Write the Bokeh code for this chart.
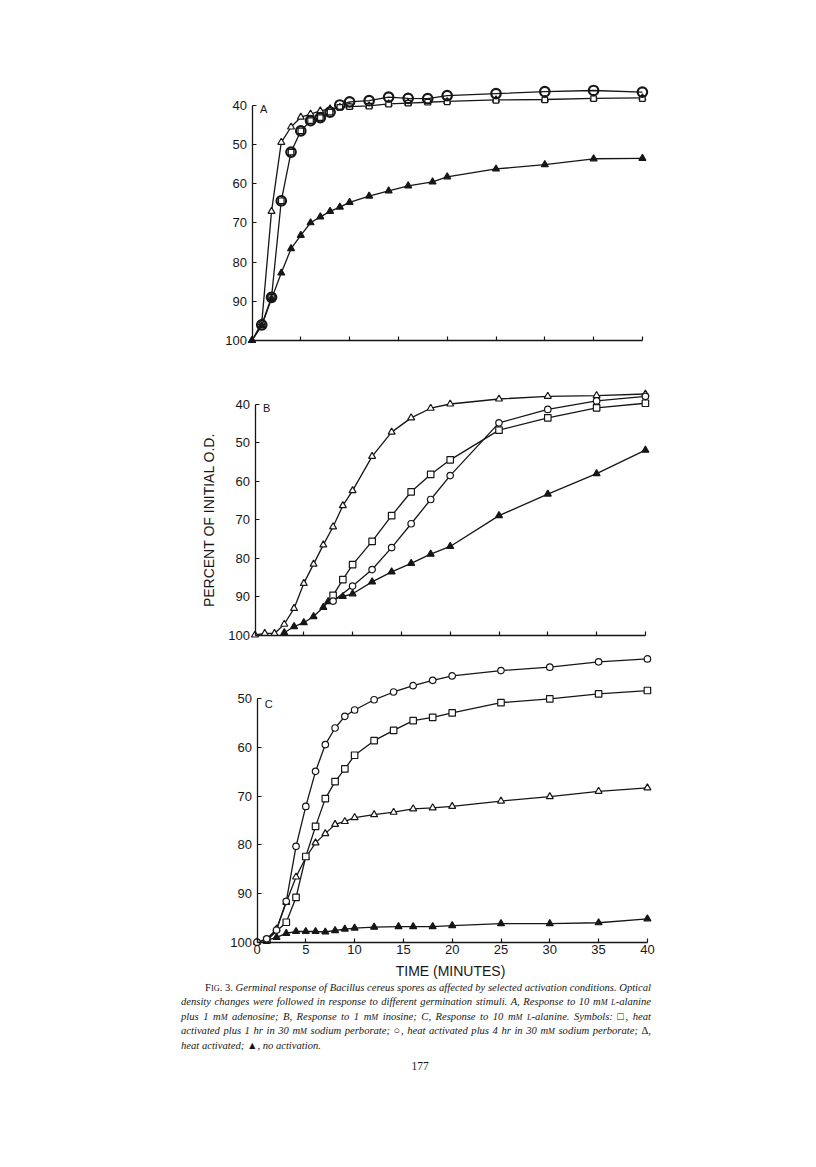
from bokeh.plotting import figure
from bokeh.models import Range1d, FixedTicker, Label, Div
from bokeh.layouts import column
from bokeh.embed import file_html
from bokeh.resources import INLINE

# ---------------- data (minutes, percent of initial O.D.) ----------------
# Panel A
a_tri_t = [0, 1, 2, 3, 4, 5, 6, 7, 8, 9, 10, 12, 14, 16, 18, 20, 25, 30, 35, 40]
a_tri_v = [100, 95.5, 67.1, 49.5, 45.6, 43.1, 42.3, 41.5, 41.0, 40.6, 40.4, 40.2, 39.7, 39.5, 39.3, 39.1, 38.7, 38.6, 38.3, 38.2]
a_cir_t = [1, 2, 3, 4, 5, 6, 7, 8, 9, 10, 12, 14, 16, 18, 20, 25, 30, 35, 40]
a_cir_v = [96.0, 89.0, 64.4, 52.0, 46.6, 44.0, 43.2, 41.8, 40.0, 39.2, 38.9, 38.0, 38.3, 38.4, 37.6, 37.1, 36.6, 36.3, 36.7]
a_sq_t = [2, 3, 4, 5, 6, 7, 8, 9, 10, 12, 14, 16, 18, 20, 25, 30, 35, 40]
a_sq_v = [89.0, 64.4, 52.0, 46.6, 44.0, 43.2, 41.8, 40.6, 40.4, 40.3, 39.8, 39.5, 39.3, 39.2, 38.8, 38.7, 38.4, 38.4]
a_fil_t = [0, 1, 2, 3, 4, 5, 6, 7, 8, 9, 10, 12, 14, 16, 18.5, 20, 25, 30, 35, 40]
a_fil_v = [100, 96.2, 89.4, 82.8, 76.6, 73.2, 70.0, 68.5, 67.1, 66.0, 64.8, 63.2, 61.9, 60.6, 59.6, 58.3, 56.3, 55.2, 53.7, 53.6]

# Panel B
b_tri_t = [0, 1, 2, 3, 4, 5, 6, 7, 8, 9, 10, 12, 14, 16, 18, 20, 25, 30, 35, 40]
b_tri_v = [100, 99.6, 99.6, 97.2, 93.1, 86.6, 81.6, 76.6, 71.9, 66.4, 62.5, 53.6, 47.3, 43.6, 41.1, 40.0, 38.7, 38.0, 37.8, 37.4]
b_sq_t = [8, 9, 10, 12, 14, 16, 18, 20, 25, 30, 35, 40]
b_sq_v = [89.7, 85.6, 81.7, 75.7, 69.0, 62.8, 58.3, 54.5, 46.8, 43.6, 41.0, 39.8]
b_cir_t = [8, 10, 12, 14, 16, 18, 20, 25, 30, 35, 40]
b_cir_v = [91.2, 87.3, 83.0, 77.3, 71.1, 64.8, 58.6, 44.9, 41.4, 39.2, 38.0]
b_fil_t = [3, 4, 5, 6, 7, 7.5, 9, 10, 12, 14, 16, 18, 20, 25, 30, 35, 40]
b_fil_v = [99.4, 97.8, 96.8, 95.2, 92.8, 91.3, 90.0, 89.3, 86.2, 83.6, 81.4, 79.0, 77.0, 69.0, 63.4, 58.1, 52.0]

# Panel C
c_cir_t = [0, 1, 2, 3, 4, 5, 6, 7, 8, 9, 10, 12, 14, 16, 18, 20, 25, 30, 35, 40]
c_cir_v = [100, 99.3, 97.5, 91.6, 80.3, 72.1, 64.9, 59.4, 56.0, 53.6, 52.3, 50.2, 48.6, 47.3, 46.2, 45.3, 44.2, 43.5, 42.4, 41.8]
c_sq_t = [1, 3, 4, 5, 6, 7, 8, 9, 10, 12, 14, 16, 18, 20, 25, 30, 35, 40]
c_sq_v = [99.6, 95.9, 90.8, 82.4, 76.2, 70.5, 67.0, 64.4, 61.6, 58.6, 56.5, 54.5, 53.8, 52.9, 50.8, 50.0, 49.0, 48.3]
c_tri_t = [0, 1, 2, 3, 4, 5, 6, 7, 8, 9, 10, 12, 14, 16, 18, 20, 25, 30, 35, 40]
c_tri_v = [100, 99.5, 97.3, 91.8, 86.6, 82.6, 79.6, 77.7, 75.8, 75.2, 74.4, 73.8, 73.3, 72.6, 72.4, 72.1, 71.0, 70.1, 69.0, 68.3]
c_fil_t = [1, 2, 3, 4, 5, 6, 7, 8, 9, 10, 12, 14.5, 16, 18, 20, 25, 30, 35, 40]
c_fil_v = [99.6, 99.0, 98.2, 97.8, 97.8, 97.8, 97.9, 97.6, 97.3, 97.1, 96.9, 96.8, 96.8, 96.8, 96.6, 96.2, 96.2, 96.0, 95.2]

x_ticks_ab = [5, 10, 15, 20, 25, 30, 35, 40]
x_ticks_c = [0, 5, 10, 15, 20, 25, 30, 35, 40]
y_ticks_ab = [40, 50, 60, 70, 80, 90, 100]
y_ticks_c = [50, 60, 70, 80, 90, 100]

x_title = "TIME  (MINUTES)"
y_title = "PERCENT OF INITIAL O.D."

INK = "#161616"
TICK_FONT = "Liberation Sans"

# ---------------- layout geometry (screen pixels) ----------------
W = 800
FL, FR = 190, 660          # frame left / right on the screen
L = FL
FW = FR - FL
R = W - L - FW


def make_panel(page_top, H, T, B, t0_px, px_min, vref, vref_px, px_unit,
               ybounds, yticks, xticks, show_xlabels, letter, letter_v):
    ftop = page_top + T
    fbot = page_top + H - B
    x0 = (FL - t0_px) / px_min
    x1 = (FR - t0_px) / px_min
    ybot = vref + (fbot - vref_px) / px_unit
    ytop = vref + (ftop - vref_px) / px_unit
    p = figure(width=W, height=H, output_backend="svg", toolbar_location=None,
               x_range=Range1d(x0, x1), y_range=Range1d(ybot, ytop),
               min_border_left=L, min_border_right=R,
               min_border_top=T, min_border_bottom=B)
    p.outline_line_color = None
    p.grid.visible = False
    p.background_fill_color = "white"
    p.border_fill_color = "white"

    xa = p.xaxis[0]
    ya = p.yaxis[0]
    xa.fixed_location = 100
    ya.fixed_location = 0
    xa.bounds = (0, 40)
    ya.bounds = ybounds
    xa.ticker = FixedTicker(ticks=xticks)
    ya.ticker = FixedTicker(ticks=yticks)
    for ax in (xa, ya):
        ax.axis_line_color = INK
        ax.axis_line_width = 1.3
        ax.major_tick_line_color = INK
        ax.major_tick_line_width = 1.2
        ax.major_tick_in = 4
        ax.major_tick_out = 0
        ax.minor_tick_line_color = None
        ax.major_label_text_font = TICK_FONT
        ax.major_label_text_font_size = "13px"
        ax.major_label_text_color = INK
    ya.major_label_standoff = 5
    xa.major_label_standoff = 3
    if not show_xlabels:
        xa.major_label_text_color = None
    p.add_layout(Label(x=1.2, y=letter_v, text=letter, text_font=TICK_FONT,
                       text_font_size="11px", text_color=INK,
                       text_align="center", text_baseline="middle"))
    return p


def series(p, t, v, marker, size=6.5, fill="white", lw=1.2, line=True):
    if line:
        p.line(t, v, line_color=INK, line_width=1.3)
    return (marker, t, v, size, fill, lw)


def draw_markers(p, specs):
    for marker, t, v, size, fill, lw in specs:
        p.scatter(t, v, marker=marker, size=size, fill_color=fill,
                  line_color=INK, line_width=lw)


# Panel A
pA = make_panel(0, 372, 70, 12, 251.5, 9.76, 40, 104.5, 3.925,
                (40, 100), y_ticks_ab, x_ticks_ab, False, "A", 41.0)
sA = [series(pA, a_tri_t, a_tri_v, "triangle", 7),
      series(pA, a_sq_t, a_sq_v, "square", 5.5, line=False),
      series(pA, a_cir_t, a_cir_v, "circle", 9.5, fill=None, lw=2.2),
      series(pA, a_fil_t, a_fil_v, "triangle", 7, fill=INK)]
draw_markers(pA, sA)

# Panel B
pB = make_panel(372, 276, 8, 3, 254.5, 9.76, 40, 403.5, 3.85,
                (40, 100), y_ticks_ab, x_ticks_ab, False, "B", 41.0)
pB.yaxis[0].axis_label = y_title
pB.yaxis[0].axis_label_text_font = TICK_FONT
pB.yaxis[0].axis_label_text_font_size = "14px"
pB.yaxis[0].axis_label_text_font_style = "normal"
pB.yaxis[0].axis_label_text_color = INK
pB.yaxis[0].axis_label_standoff = 9
sB = [series(pB, b_fil_t, b_fil_v, "triangle", 7, fill=INK),
      series(pB, b_tri_t, b_tri_v, "triangle", 7),
      series(pB, b_sq_t, b_sq_v, "square", 6.5),
      series(pB, b_cir_t, b_cir_v, "circle", 6.5)]
draw_markers(pB, sB)

# Panel C
pC = make_panel(648, 332, 2, 0, 256.5, 9.76, 50, 698.3, 4.868,
                (50, 100), y_ticks_c, x_ticks_c, True, "C", 51.0)
pC.xaxis[0].axis_label = x_title
pC.xaxis[0].axis_label_text_font = TICK_FONT
pC.xaxis[0].axis_label_text_font_size = "14px"
pC.xaxis[0].axis_label_text_font_style = "normal"
pC.xaxis[0].axis_label_text_color = INK
pC.xaxis[0].axis_label_standoff = 5
sC = [series(pC, c_fil_t, c_fil_v, "triangle", 7, fill=INK),
      series(pC, c_tri_t, c_tri_v, "triangle", 7),
      series(pC, c_sq_t, c_sq_v, "square", 6.5),
      series(pC, c_cir_t, c_cir_v, "circle", 6.5)]
draw_markers(pC, sC)

# ---------------- caption ----------------
sm = '<span style="font-size:0.78em">{}</span>'
mM = 'm' + sm.format('M')
Lala = sm.format('L') + '-alanine'
lines = [
    '<span style="font-style:normal">F' + sm.format('IG') + '. 3.</span> Germinal response of Bacillus cereus spores as affected by selected activation conditions. Optical',
    'density changes were followed in response to different germination stimuli. A, Response to 10 ' + mM + ' ' + Lala,
    'plus 1 ' + mM + ' adenosine; B, Response to 1 ' + mM + ' inosine; C, Response to 10 ' + mM + ' ' + Lala + '. Symbols: <span style="font-style:normal">&#9633;</span>, heat',
    'activated plus 1 hr in 30 ' + mM + ' sodium perborate; <span style="font-style:normal">&#9675;</span>, heat activated plus 4 hr in 30 ' + mM + ' sodium perborate; <span style="font-style:normal">&#916;</span>,',
    'heat activated; <span style="font-style:normal">&#9650;</span>, no activation.',
]
html = ['<div style="margin-left:176px;margin-top:-4px;width:470px;font-family:\'Liberation Serif\',serif;'
        'font-size:10.6px;line-height:13.4px;color:#161616;font-style:italic;">']
for i, ln in enumerate(lines):
    last = i == len(lines) - 1
    style = "white-space:nowrap;text-align:%s;text-align-last:%s;" % (
        "left" if last else "justify", "left" if last else "justify")
    if i == 0:
        style += "padding-left:24px;"
    html.append('<div style="%s">%s</div>' % (style, ln))
html.append('<div style="text-align:center;font-style:normal;font-size:11.5px;'
            'margin-top:8px;padding-left:8px;">177</div>')
html.append('</div>')
cap = Div(text="".join(html), width=W, height=110)

layout = column(pA, pB, pC, cap)
open("out.html", "w").write(file_html(layout, INLINE))
